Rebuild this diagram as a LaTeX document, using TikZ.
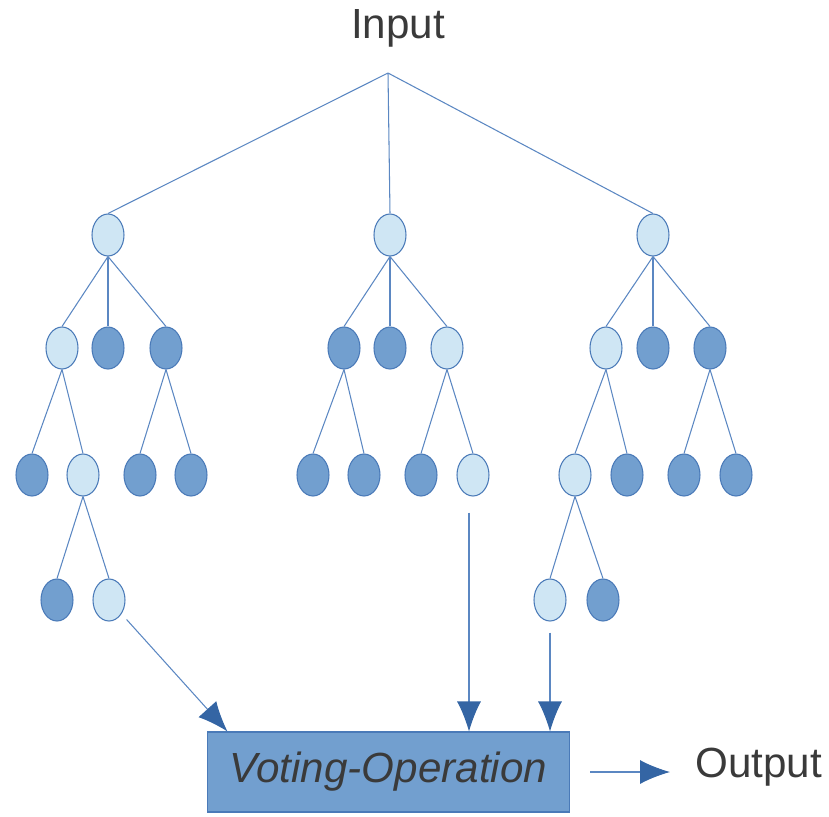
\documentclass[tikz,border=0pt]{standalone}
\usepackage{fontspec}
\setmainfont{Liberation Sans}
\usetikzlibrary{shapes.geometric,arrows.meta}

\definecolor{leaflight}{HTML}{CFE6F4}
\definecolor{leafdark}{HTML}{729FCF}
\definecolor{rimblue}{HTML}{4A7AB8}
\definecolor{treeline}{HTML}{5B87C2}
\definecolor{tipblue}{HTML}{3465A4}
\definecolor{textgray}{HTML}{3A3A3A}

\begin{document}
\begin{tikzpicture}[x=0.02cm, y=-0.02cm,
        lnode/.style={ellipse, draw=rimblue, fill=leaflight, line width=0.6pt,
            minimum width=0.64cm, minimum height=0.84cm, inner sep=0pt},
        dnode/.style={lnode, fill=leafdark},
        branch/.style={draw=treeline, line width=0.6pt},
        tovote/.style={draw=treeline, line width=0.6pt,
            -{Latex[length=0.6cm, width=0.48cm, color=tipblue]}},
        bigtext/.style={font=\fontsize{24}{28}\selectfont, text=textgray}]
    \useasboundingbox (0,0) rectangle (829,816);

    \node[bigtext, anchor=base, inner sep=0pt] (input) at (398,38) {Input};
    \coordinate (top) at (388,73);

    % left tree
    \node[lnode] (a) at (108,235) {};
    \node[lnode] (a1) at (62,348) {};
    \node[dnode] (a2) at (108,348) {};
    \node[dnode] (a3) at (166,348) {};
    \node[dnode] (a11) at (32,475) {};
    \node[lnode] (a12) at (83,475) {};
    \node[dnode] (a31) at (140,475) {};
    \node[dnode] (a32) at (191,475) {};
    \node[dnode] (a121) at (57,600) {};
    \node[lnode] (a122) at (109,600) {};

    % middle tree
    \node[lnode] (b) at (390,235) {};
    \node[dnode] (b1) at (344,348) {};
    \node[dnode] (b2) at (390,348) {};
    \node[lnode] (b3) at (447,348) {};
    \node[dnode] (b11) at (313,475) {};
    \node[dnode] (b12) at (364,475) {};
    \node[dnode] (b31) at (421,475) {};
    \node[lnode] (b32) at (473,475) {};

    % right tree
    \node[lnode] (c) at (653,235) {};
    \node[lnode] (c1) at (606,348) {};
    \node[dnode] (c2) at (653,348) {};
    \node[dnode] (c3) at (710,348) {};
    \node[lnode] (c11) at (575,475) {};
    \node[dnode] (c12) at (627,475) {};
    \node[dnode] (c31) at (684,475) {};
    \node[dnode] (c32) at (736,475) {};
    \node[lnode] (c111) at (550,600) {};
    \node[dnode] (c112) at (603,600) {};

    \foreach \t in {a,b,c}
        \draw[branch] (top) -- (\t.north);
    \foreach \p/\q in {a/a1,a/a2,a/a3,a1/a11,a1/a12,a3/a31,a3/a32,a12/a121,a12/a122,
            b/b1,b/b2,b/b3,b1/b11,b1/b12,b3/b31,b3/b32,
            c/c1,c/c2,c/c3,c1/c11,c1/c12,c3/c31,c3/c32,c11/c111,c11/c112}
        \draw[branch] (\p.south) -- (\q.north);

    \node[rectangle, draw=rimblue, fill=leafdark, line width=0.6pt,
        minimum width=7.26cm, minimum height=1.6cm, bigtext] (vote) at (388.5,772)
        {\itshape Voting-Operation};
    \node[bigtext, anchor=base west, inner sep=0pt] (output) at (695,777) {Output};

    \draw[tovote, shorten <=0.15cm] (a122) -- ([xshift=0.42cm]vote.north west);
    \draw[tovote, shorten <=0.32cm] ([xshift=-0.08cm]b32.south) -- ([xshift=-0.08cm]b32.south |- vote.north);
    \draw[tovote, shorten <=0.22cm] (c111.south) -- (c111.south |- vote.north);
    \draw[tovote, shorten <=0.4cm, shorten >=0.5cm] (vote.east) -- (vote.east -| output.west);
\end{tikzpicture}
\end{document}
